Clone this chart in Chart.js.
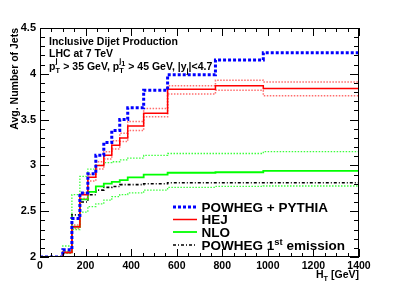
<!DOCTYPE html>
<html lang="en">
<head>
    <meta charset="UTF-8">
    <title>Avg. Number of Jets vs HT</title>
    <script src="https://cdn.jsdelivr.net/npm/chart.js"></script>
    <style>
        body { margin: 0; background: #fff; }
    </style>
</head>
<body>
    <canvas id="jetChart" width="399" height="286"></canvas>
    <script>
        // bin edges in GeV (last value repeated at 1400 to close the histogram)
        var edges = [0, 100, 140, 175, 210, 245, 280, 315, 350, 385, 455, 560, 770, 980, 1400];

        var powhegPythia = [2.00, 2.08, 2.42, 2.70, 2.91, 3.11, 3.25, 3.38, 3.50, 3.63, 3.82, 3.99, 4.15, 4.23];
        var hej          = [2.00, 2.05, 2.33, 2.68, 2.87, 3.00, 3.11, 3.22, 3.30, 3.43, 3.57, 3.83, 3.87, 3.84];
        var hejUp        = [2.00, 2.06, 2.35, 2.70, 2.90, 3.04, 3.15, 3.27, 3.35, 3.48, 3.62, 3.87, 3.93, 3.91];
        var hejDown      = [2.00, 2.04, 2.31, 2.64, 2.83, 2.96, 3.07, 3.18, 3.26, 3.38, 3.53, 3.78, 3.82, 3.76];
        var nlo          = [2.00, 2.05, 2.33, 2.63, 2.71, 2.77, 2.80, 2.82, 2.84, 2.87, 2.90, 2.92, 2.925, 2.94];
        var nloUp        = [2.00, 2.12, 2.68, 2.88, 2.96, 3.00, 3.03, 3.04, 3.06, 3.08, 3.11, 3.13, 3.13, 3.15];
        var nloDown      = [2.00, 2.04, 2.30, 2.49, 2.55, 2.58, 2.62, 2.66, 2.68, 2.70, 2.73, 2.76, 2.77, 2.775];
        var powhegFirst  = [2.00, 2.05, 2.46, 2.60, 2.68, 2.73, 2.76, 2.77, 2.79, 2.79, 2.80, 2.81, 2.81, 2.81];

        var xTicks = [0, 200, 400, 600, 800, 1000, 1200, 1400];
        var yTicks = [2, 2.5, 3, 3.5, 4, 4.5];

        var FONT = '"Liberation Sans", Arial, sans-serif';

        function steps(vals) { // point on each left bin edge, last value repeated at the right end
            return edges.map(function(x, i) {
                return { x: x, y: vals[Math.min(i, vals.length - 1)] };
            });
        }

        function line(label, vals, color, width, dash) {
            return {
                label: label,
                data: steps(vals),
                stepped: 'before',
                borderColor: color,
                borderWidth: width,
                borderDash: dash,
                pointRadius: 0,
                fill: false
            };
        }

        // draws text pieces one after another, sub/sup pieces can stack on the previous one
        function richText(ctx, x, y, parts, size, measureOnly) {
            var cx = x, lastX = x, maxX = x;
            parts.forEach(function(p) {
                var s = p.small ? size * 0.7 : size;
                ctx.font = 'bold ' + s + 'px ' + FONT;
                if (p.stack) cx = lastX;
                lastX = cx;
                if (!measureOnly) ctx.fillText(p.t, cx, y + (p.dy || 0));
                cx += ctx.measureText(p.t).width;
                maxX = Math.max(maxX, cx);
            });
            return maxX - x;
        }

        var frame = {
            id: 'frame',
            afterDatasetsDraw: function(chart) {
                var ctx = chart.ctx, a = chart.chartArea, x = chart.scales.x, y = chart.scales.y;
                ctx.save();
                ctx.strokeStyle = '#000';
                ctx.lineWidth = 1;
                ctx.beginPath();
                for (var v = 0; v <= 1400; v += 50) {
                    var px = Math.round(x.getPixelForValue(v)) + 0.5;
                    var len = v % 200 === 0 ? 8 : 4;
                    ctx.moveTo(px, a.bottom); ctx.lineTo(px, a.bottom - len);
                    ctx.moveTo(px, a.top); ctx.lineTo(px, a.top + len);
                }
                for (var k = 20; k <= 45; k++) {
                    var py = Math.round(y.getPixelForValue(k / 10)) + 0.5;
                    var l2 = k % 5 === 0 ? 9 : 5;
                    ctx.moveTo(a.left, py); ctx.lineTo(a.left + l2, py);
                    ctx.moveTo(a.right, py); ctx.lineTo(a.right - l2, py);
                }
                ctx.stroke();
                ctx.strokeRect(a.left + 0.5, a.top + 0.5, a.right - a.left - 1, a.bottom - a.top - 1);
                ctx.restore();
            },
            afterDraw: function(chart) {
                var ctx = chart.ctx, a = chart.chartArea;
                ctx.save();
                ctx.fillStyle = '#000';
                ctx.textBaseline = 'alphabetic';
                ctx.textAlign = 'left';

                // info text, top left
                ctx.font = 'bold 10.5px ' + FONT;
                ctx.fillText('Inclusive Dijet Production', 49, 45);
                ctx.fillText('LHC at 7 TeV', 49, 57);
                richText(ctx, 49, 70, [
                    { t: 'p' },
                    { t: 'T', small: true, dy: 3 },
                    { t: 'j', small: true, dy: -7, stack: true },
                    { t: '  > 35 GeV, p' },
                    { t: 'T', small: true, dy: 3 },
                    { t: 'j', small: true, dy: -7, stack: true },
                    { t: '1', small: true, dy: -4 },
                    { t: ' > 45 GeV, |y' },
                    { t: 'j', small: true, dy: 3 },
                    { t: '|<4.7' }
                ], 10.5);

                // x title, right aligned to the frame
                var xt = [{ t: 'H' }, { t: 'T', small: true, dy: 3 }, { t: ' [GeV]' }];
                var w = richText(ctx, 0, 0, xt, 10.5, true);
                richText(ctx, a.right - w, 278, xt, 10.5);

                // y title, rotated, ends at the top of the frame
                ctx.save();
                ctx.translate(18, a.top);
                ctx.rotate(-Math.PI / 2);
                ctx.textAlign = 'right';
                ctx.font = 'bold 10.5px ' + FONT;
                ctx.fillText('Avg. Number of Jets', 0, 0);
                ctx.restore();

                // legend
                var rows = [
                    { ds: 0, y: 207, text: [{ t: 'POWHEG + PYTHIA' }] },
                    { ds: 1, y: 219.5, text: [{ t: 'HEJ' }] },
                    { ds: 4, y: 232, text: [{ t: 'NLO' }] },
                    { ds: 7, y: 245, text: [{ t: 'POWHEG 1' }, { t: 'st', small: true, dy: -5 }, { t: ' emission' }] }
                ];
                rows.forEach(function(r) {
                    var d = chart.data.datasets[r.ds];
                    ctx.save();
                    ctx.strokeStyle = d.borderColor;
                    ctx.lineWidth = d.borderWidth;
                    ctx.setLineDash(d.borderDash || []);
                    ctx.beginPath();
                    ctx.moveTo(173, r.y);
                    ctx.lineTo(197, r.y);
                    ctx.stroke();
                    ctx.restore();
                    richText(ctx, 201.5, r.y + 4.8, r.text, 13.5);
                });
                ctx.restore();
            }
        };

        var ctx = document.getElementById('jetChart').getContext('2d');
        var jetChart = new Chart(ctx, {
            type: 'line',
            data: {
                datasets: [
                    line('POWHEG + PYTHIA', powhegPythia, '#0000ff', 3, [3, 2]),
                    line('HEJ', hej, '#ff0000', 1.5, []),
                    line('HEJ up', hejUp, 'rgba(255,60,60,0.75)', 1.5, [1.5, 1.5]),
                    line('HEJ down', hejDown, 'rgba(255,60,60,0.75)', 1.5, [1.5, 1.5]),
                    line('NLO', nlo, '#00ff00', 1.8, []),
                    line('NLO up', nloUp, 'rgba(40,255,40,0.9)', 1.3, [1.5, 1.5]),
                    line('NLO down', nloDown, 'rgba(40,255,40,0.9)', 1.3, [1.5, 1.5]),
                    line('POWHEG 1st emission', powhegFirst, '#000000', 1.6, [3, 2, 1, 2])
                ]
            },
            options: {
                responsive: false,
                animation: false,
                layout: { padding: { top: 28, right: 40, left: 0, bottom: 0 } },
                plugins: {
                    legend: { display: false },
                    tooltip: { enabled: false }
                },
                scales: {
                    x: {
                        type: 'linear',
                        min: 0,
                        max: 1400,
                        afterFit: function(s) { s.height = 29; },
                        afterBuildTicks: function(s) { s.ticks = xTicks.map(function(v) { return { value: v }; }); },
                        grid: { display: false, drawTicks: false },
                        border: { display: false },
                        ticks: {
                            color: '#000', padding: 3, maxRotation: 0,
                            font: { family: FONT, weight: 'bold', size: 10.5 },
                            callback: function(v) { return String(v); }
                        }
                    },
                    y: {
                        min: 2,
                        max: 4.5,
                        afterFit: function(s) { s.width = 40; },
                        afterBuildTicks: function(s) { s.ticks = yTicks.map(function(v) { return { value: v }; }); },
                        grid: { display: false, drawTicks: false },
                        border: { display: false },
                        ticks: {
                            color: '#000', padding: 4,
                            font: { family: FONT, weight: 'bold', size: 11 },
                            callback: function(v) { return String(v); }
                        }
                    }
                }
            },
            plugins: [frame]
        });
    </script>
</body>
</html>
